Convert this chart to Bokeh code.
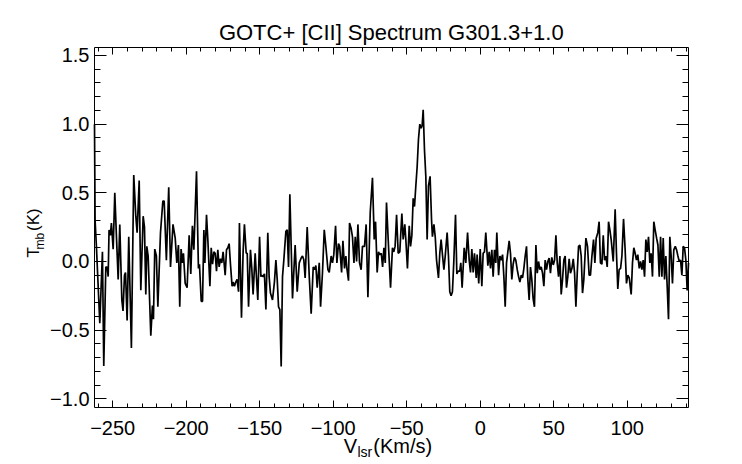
import numpy as np
from bokeh.plotting import figure
from bokeh.models import LinearAxis, FixedTicker, Label, Range1d, CustomJSTickFormatter
from bokeh.embed import file_html
from bokeh.resources import INLINE

# ---------------- data ----------------
vel_a = [-262.4, -262.0, -261.1, -258.8, -257.0, -256.1, -254.7, -253.8, -253.1, -252.5,
         -251.6, -250.9, -249.7, -248.6, -247.5, -246.3, -245.2, -243.8, -243.0, -242.0,
         -241.3, -240.2, -239.1, -237.3, -235.7, -234.3, -233.4, -232.0, -230.9, -229.3,
         -228.4, -227.5, -226.8, -225.9, -224.1, -223.0, -222.3, -221.4, -220.3, -219.3,
         -217.5, -215.9, -215.0, -213.5, -211.9, -210.7, -209.0, -207.5, -206.4, -205.3,
         -204.4, -203.5, -202.6, -201.9, -200.7, -199.4, -198.0, -196.9, -195.8]
tmb_a = [1.0, 0.3, 0.11, -0.45, 0.07, -0.76, -0.04, -0.04, -0.11, 0.23,
         0.19, 0.28, 0.09, 0.50, 0.19, -0.13, 0.27, -0.28, -0.36, -0.10,
         -0.08, -0.43, 0.18, -0.63, 0.63, 0.33, 0.21, 0.59, -0.21, 0.33,
         0.25, -0.24, 0.11, 0.04, -0.54, -0.32, -0.42, 0.09, 0.04, -0.33,
         0.21, 0.44, 0.44, 0.01, 0.54, -0.04, 0.27, 0.17, -0.01, 0.12,
         -0.33, 0.09, -0.01, 0.06, -0.16, -0.19, 0.19, -0.09, 0.26]

vel_b = [-194.8, -193.0, -191.7, -191.0, -189.8, -188.9, -188.0, -187.3, -186.2, -185.3,
         -183.9, -183.0, -182.1, -181.2, -180.3, -179.4, -178.5, -177.6, -176.7, -175.8,
         -174.9, -173.5, -172.6, -171.7, -170.8, -169.9, -168.8, -168.1, -167.2, -166.3,
         -165.4, -164.4, -163.8, -162.4, -161.3, -160.4, -159.2, -158.5, -157.6, -156.3,
         -155.4, -154.5, -153.1, -152.2, -151.3, -150.1, -149.2, -148.6, -147.7, -146.8,
         -145.8, -144.5, -143.6, -142.7, -141.3, -140.0, -139.0, -138.1, -137.2, -136.3,
         -135.4, -134.5, -133.6, -132.2, -131.3, -130.4, -129.5]
tmb_b = [0.085, 0.656, -0.05, -0.02, -0.29, -0.29, 0.23, -0.01, 0.34, 0.16,
         -0.18, 0.10, -0.02, 0.07, 0.06, -0.07, 0.085, -0.04, 0.02, -0.01,
         0.07, -0.10, 0.085, 0.10, 0.13, -0.02, -0.18, -0.15, -0.18, -0.15,
         -0.13, -0.22, 0.28, -0.41, 0.07, 0.27, 0.06, 0.06, -0.33, 0.085,
         -0.05, -0.24, 0.06, -0.12, -0.28, 0.18, -0.11, -0.10, -0.11, -0.09,
         -0.35, 0.21, -0.11, -0.23, -0.28, -0.15, 0.01, -0.13, -0.33, -0.35,
         -0.765, -0.11, 0.01, 0.22, 0.23, -0.04, 0.49]

vel_c = [-127.7, -125.9, -124.5, -123.1, -121.8, -120.9, -120.0, -119.1, -117.7, -116.3,
         -115.0, -113.6, -112.7, -111.8, -110.9, -109.5, -108.6, -107.3, -106.1, -105.0,
         -103.6, -102.7, -101.4, -100.5, -99.6, -98.4, -97.5, -96.4, -95.6, -94.3,
         -93.4, -92.3, -91.4, -90.7, -89.6, -88.9, -87.8, -86.9, -85.9, -85.0,
         -84.1, -83.2, -82.1, -81.0, -80.1, -78.7, -77.6, -76.4, -74.8, -73.3,
         -72.1, -71.2, -70.1, -69.2, -68.3, -67.3, -66.4, -65.5, -64.6]
tmb_c = [-0.27, 0.12, -0.22, -0.01, 0.025, 0.04, 0.012, -0.12, 0.25, -0.11,
         -0.38, -0.04, -0.06, -0.03, -0.19, -0.01, -0.33, -0.08, 0.23, 0.11,
         -0.06, -0.08, 0.04, -0.01, 0.05, 0.26, -0.01, 0.13, 0.11, -0.08,
         0.15, -0.05, 0.04, -0.05, -0.14, 0.28, 0.24, 0.18, -0.01, 0.18,
         0.00, 0.27, -0.01, -0.06, 0.11, 0.11, 0.27, -0.26, 0.36, 0.61,
         0.16, 0.29, -0.08, 0.07, 0.05, 0.06, -0.04, 0.10, -0.01]

vel_d = [-63.75, -62.6, -61.0, -59.7, -58.8, -57.9, -56.9, -55.8, -54.7, -53.3,
         -52.4, -51.3, -50.6, -49.5, -48.3, -47.4, -46.5, -45.6, -44.7, -43.8,
         -42.9, -42.0, -41.1, -40.2, -39.5, -38.8, -37.9, -37.0, -36.1, -35.2,
         -34.1, -33.1, -32.5, -31.5, -30.6, -29.7, -28.4, -27.5, -26.6, -25.6,
         -24.7, -23.8, -22.5, -21.6, -20.7, -19.8, -18.9, -18.0, -16.8, -15.9,
         -15.0, -13.9, -13.2, -12.3, -10.9, -9.8, -8.6, -7.5, -6.6, -5.7,
         -4.8, -3.9, -2.7, -2.1, -1.0, 0.0, 1.1, 2.0, 2.9, 3.8]
tmb_d = [0.43, 0.16, -0.19, 0.10, 0.07, 0.11, 0.34, 0.06, 0.07, 0.35,
         0.16, 0.27, 0.16, -0.05, 0.26, 0.11, 0.19, 0.46, 0.40, 0.55,
         0.69, 0.89, 1.00, 0.97, 0.99, 1.105, 0.81, 0.62, 0.16, 0.55,
         0.62, 0.30, 0.18, 0.27, 0.18, 0.01, -0.12, 0.06, 0.16, 0.04,
         -0.06, 0.04, 0.21, 0.04, -0.22, -0.25, -0.22, -0.01, 0.34, -0.09,
         -0.07, -0.07, -0.01, -0.19, 0.10, -0.01, 0.21, 0.01, -0.08, 0.09,
         -0.08, 0.06, -0.12, 0.05, -0.16, 0.09, -0.18, 0.06, 0.07, 0.21]

vel_e = [5.2, 6.1, 7.0, 7.9, 8.8, 9.7, 10.6, 11.3, 12.5, 13.4,
         14.3, 15.2, 16.1, 17.0, 17.9, 18.8, 19.7, 20.6, 21.5, 22.4,
         23.3, 24.2, 25.2, 26.1, 27.0, 27.9, 28.8, 29.7, 30.6, 31.5,
         32.4, 33.3, 34.2, 35.1, 36.0, 36.9, 37.9, 38.8, 39.7, 40.6,
         41.5, 42.4, 43.3, 44.2, 45.1, 46.0, 46.9, 47.8, 48.7, 49.7,
         50.6, 51.5, 52.4, 53.3, 54.2, 55.1, 56.0, 56.9, 57.8, 58.7,
         59.6, 60.5, 61.4, 62.4, 63.3, 64.2, 65.1, 66.0, 66.9, 67.8,
         68.7, 69.6, 70.5]
tmb_e = [-0.03, 0.07, -0.05, 0.085, -0.11, 0.085, -0.01, 0.21, -0.10, 0.04,
         0.01, 0.05, -0.11, -0.33, -0.01, 0.07, 0.15, 0.06, -0.13, -0.02,
         0.03, 0.01, -0.06, -0.11, -0.15, -0.10, -0.12, -0.05, 0.04, 0.11,
         -0.13, -0.28, -0.04, -0.13, -0.27, -0.33, 0.12, -0.085, 0.0, -0.06,
         -0.04, -0.085, -0.18, 0.01, -0.06, 0.0, 0.025, -0.085, 0.03, -0.025,
         0.01, 0.19, -0.01, -0.11, 0.04, -0.24, -0.13, 0.01, 0.04, -0.19,
         -0.11, 0.02, -0.085, -0.05, 0.02, -0.085, -0.33, -0.085, 0.11, 0.12,
         0.04, -0.23, -0.13]

vel_f = [71.9, 73.0, 74.1, 75.0, 76.0, 77.1, 78.0, 78.9, 80.0, 80.9,
         81.8, 82.8, 83.7, 84.6, 85.5, 86.4, 87.3, 88.2, 89.1, 90.5,
         91.8, 92.7, 93.6, 94.5, 95.5, 96.4, 97.5, 98.6, 99.5, 100.4,
         101.4, 102.7, 103.6, 104.5, 105.4, 106.3, 107.2, 108.2, 109.1, 110.0,
         110.9, 111.8, 112.7, 113.6, 114.5, 115.4, 116.3, 117.2, 118.1, 119.0,
         120.0, 120.9, 121.8, 122.7, 123.6, 124.5, 125.4, 126.3, 127.2, 128.1,
         129.0, 129.9, 130.8, 131.7, 132.7, 133.6, 134.5, 135.4, 136.3, 137.2,
         138.1, 139.0, 139.9, 140.8, 141.7]
tmb_f = [0.17, 0.11, -0.10, -0.10, 0.04, 0.16, -0.01, 0.17, 0.21, 0.29,
         -0.01, -0.02, 0.19, 0.01, 0.04, -0.04, 0.29, 0.23, 0.16, 0.0,
         0.38, 0.06, -0.20, -0.06, -0.05, 0.04, 0.31, 0.085, -0.16, -0.10,
         -0.12, -0.24, -0.01, 0.10, 0.06, 0.01, 0.05, -0.05, 0.0, -0.06,
         0.01, -0.11, 0.16, 0.07, 0.18, -0.01, 0.06, -0.11, 0.29, 0.23,
         0.17, 0.12, -0.11, 0.18, -0.11, 0.17, -0.13, 0.04, -0.18, -0.42,
         0.18, 0.04, -0.16, 0.085, 0.11, 0.085, 0.04, 0.0, 0.01, -0.10,
         0.11, 0.10, 0.01, -0.21, -0.01]

x_major = [-250, -200, -150, -100, -50, 0, 50, 100]
x_minor = [-260, -240, -230, -220, -210, -190, -180, -170, -160, -140, -130, -120,
           -110, -90, -80, -70, -60, -40, -30, -20, -10, 10, 20, 30, 40, 60, 70,
           80, 90, 110, 120, 130, 140]
y_major = [-1.0, -0.5, 0.0, 0.5, 1.0, 1.5]
y_minor = [-0.9, -0.8, -0.7, -0.6, -0.4, -0.3, -0.2, -0.1, 0.1, 0.2, 0.3, 0.4,
           0.6, 0.7, 0.8, 0.9, 1.1, 1.2, 1.3, 1.4]

title_text = "GOTC+ [CII] Spectrum G301.3+1.0"

vel = np.concatenate([vel_a, vel_b, vel_c, vel_d, vel_e, vel_f])
tmb = np.concatenate([tmb_a, tmb_b, tmb_c, tmb_d, tmb_e, tmb_f])

# ---------------- geometry ----------------
X0, X1 = -262.4, 141.7
Y0, Y1 = -1.063, 1.558
W, H = 742, 464
BL, BT, BR, BB = 94, 47, 688, 407
SX = (BR - BL) / (X1 - X0)
SY = (BB - BT) / (Y1 - Y0)
# the plotting frame spans the whole canvas; the IDL-style box is drawn by
# four axes pinned at the box edges
XMIN, XMAX = X0 - BL / SX, X1 + (W - BR) / SX
YMIN, YMAX = Y0 - (H - BB) / SY, Y1 + BT / SY
FONT = "Liberation Sans"

p = figure(width=W, height=H, output_backend="svg", toolbar_location=None,
           x_range=Range1d(XMIN, XMAX), y_range=Range1d(YMIN, YMAX), title=None,
           min_border=0, min_border_left=0, min_border_right=0,
           min_border_top=0, min_border_bottom=0)
p.outline_line_color = None
p.grid.grid_line_color = None
p.background_fill_color = "white"
p.border_fill_color = "white"

p.line(vel, tmb, line_color="black", line_width=1.7)

fmt_x = CustomJSTickFormatter(code="return (tick < 0 ? '\u2212' : '') + Math.abs(tick).toFixed(0);")
fmt_y = CustomJSTickFormatter(code="return (tick < 0 ? '\u2212' : '') + Math.abs(tick).toFixed(1);")
fmt_none = CustomJSTickFormatter(code="return '';")


def style(ax, major, minor, ln, mln, fmt, standoff, loc, bounds):
    ax.ticker = FixedTicker(ticks=major, minor_ticks=minor)
    ax.formatter = fmt
    ax.fixed_location = loc
    ax.bounds = bounds
    ax.major_tick_in = ln
    ax.major_tick_out = 0
    ax.minor_tick_in = mln
    ax.minor_tick_out = 0
    for k in ("axis_line", "major_tick_line", "minor_tick_line"):
        setattr(ax, k + "_color", "black")
        setattr(ax, k + "_width", 1)
    ax.major_label_text_font = FONT
    ax.major_label_text_font_size = "20px"
    ax.major_label_text_color = "black"
    ax.major_label_standoff = standoff


style(p.xaxis[0], x_major, x_minor, 7, 4, fmt_x, 13, Y0, (X0, X1))
style(p.yaxis[0], y_major, y_minor, 12, 6, fmt_y, 5, X0, (Y0, Y1))
top = LinearAxis()
style(top, x_major, x_minor, 7, 4, fmt_none, 0, Y1, (X0, X1))
p.add_layout(top, "above")
right = LinearAxis()
style(right, y_major, y_minor, 12, 6, fmt_none, 0, X1, (Y0, Y1))
p.add_layout(right, "right")


def dx(cx):
    return X0 + (cx - BL) / SX


def dy(cy):
    return Y1 - (cy - BT) / SY


def lab(text, cx, cy, size, align="left", angle=0.0):
    p.add_layout(Label(x=dx(cx), y=dy(cy), text=text, text_font=FONT,
                       text_font_size=f"{size}px", text_color="black", text_align=align,
                       text_baseline="alphabetic", angle=angle))


def vlab(text, cx, cy, size):
    lab(text, cx, cy, size, angle=np.pi / 2)


lab(title_text, 390.8, 31.6, 22, align="center")
# x axis title: V_lsr(Km/s)
lab("V", 343.3, 445.8, 20)
lab("lsr", 357.0, 451.4, 14)
lab("(Km/s)", 372.8, 445.8, 20)
# y axis title: T_mb(K)
vlab("T", 32.7, 257, 17)
vlab("mb", 39.1, 249, 12)
vlab("(K)", 32.7, 230.5, 17)

open("out.html", "w").write(file_html(p, INLINE))
